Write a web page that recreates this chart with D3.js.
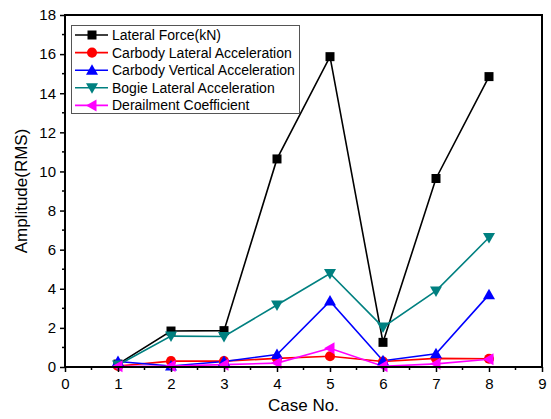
<!DOCTYPE html>
<html>
<head>
<meta charset="utf-8">
<script src="https://cdn.jsdelivr.net/npm/d3@7"></script>
<style>
  html, body { margin: 0; padding: 0; background: #fff; }
  svg { display: block; font-family: "Liberation Sans", Arial, sans-serif; }
</style>
</head>
<body>
<svg id="chart" width="551" height="419"></svg>
<script>
// Case numbers on the x axis
const cases = [1, 2, 3, 4, 5, 6, 7, 8];

// RMS amplitude per case for each measured quantity
const lateralForce = [0.15, 1.84, 1.86, 10.64, 15.87, 1.26, 9.64, 14.85];
const carbodyLateralAcc = [0.05, 0.3, 0.3, 0.44, 0.55, 0.28, 0.44, 0.42];
const carbodyVerticalAcc = [0.28, 0.05, 0.28, 0.64, 3.37, 0.32, 0.68, 3.7];
const bogieLateralAcc = [0.1, 1.58, 1.56, 3.17, 4.78, 2.04, 3.89, 6.62];
const derailmentCoef = [0.04, 0.05, 0.12, 0.2, 0.96, 0.04, 0.16, 0.4];

const seriesNames = [
  "Lateral Force(kN)",
  "Carbody Lateral Acceleration",
  "Carbody Vertical Acceleration",
  "Bogie Lateral Acceleration",
  "Derailment Coefficient"
];

const xTicks = [0, 1, 2, 3, 4, 5, 6, 7, 8, 9];
const yTicks = [0, 2, 4, 6, 8, 10, 12, 14, 16, 18];

const series = [
  { name: seriesNames[0], values: lateralForce, color: "#000000", symbol: "square" },
  { name: seriesNames[1], values: carbodyLateralAcc, color: "#FF0000", symbol: "circle" },
  { name: seriesNames[2], values: carbodyVerticalAcc, color: "#0000FF", symbol: "triUp" },
  { name: seriesNames[3], values: bogieLateralAcc, color: "#008080", symbol: "triDown" },
  { name: seriesNames[4], values: derailmentCoef, color: "#FF00FF", symbol: "triLeft" }
];

const svg = d3.select("#chart");
const margin = { left: 65, right: 9, top: 15, bottom: 52 };
const W = 551, H = 419;

const x = d3.scaleLinear().domain([0, 9]).range([margin.left, W - margin.right]);
const y = d3.scaleLinear().domain([0, 18]).range([H - margin.bottom, margin.top]);

// Marker path generator
function markerPath(sym) {
  switch (sym) {
    case "square": return "M-4.5,-4.5H4.5V4.5H-4.5Z";
    case "circle": return d3.symbol(d3.symbolCircle, 80)();
    case "triUp": return "M0,-6L6,4.5L-6,4.5Z";
    case "triDown": return "M0,6L6,-4.5L-6,-4.5Z";
    case "triLeft": return "M-6,0L4.5,-6L4.5,6Z";
  }
}

// Data lines and markers
const line = d3.line().x((d, i) => x(cases[i])).y(d => y(d));
const plot = svg.append("g");
series.forEach(s => {
  plot.append("path")
    .attr("d", line(s.values))
    .attr("fill", "none")
    .attr("stroke", s.color)
    .attr("stroke-width", 1.6);
});
series.forEach(s => {
  plot.selectAll(null)
    .data(s.values)
    .enter().append("path")
    .attr("transform", (d, i) => `translate(${x(cases[i])},${y(d)})`)
    .attr("d", markerPath(s.symbol))
    .attr("fill", s.color);
});

// Axes
const xAxis = d3.axisBottom(x).tickValues(xTicks).tickFormat(d3.format("d")).tickSize(5).tickSizeOuter(0);
const yAxis = d3.axisLeft(y).tickValues(yTicks).tickFormat(d3.format("d")).tickSize(5).tickSizeOuter(0);

const gx = svg.append("g").attr("transform", `translate(0,${y(0)})`).call(xAxis);
const gy = svg.append("g").attr("transform", `translate(${x(0)},0)`).call(yAxis);

[gx, gy].forEach(g => {
  g.select(".domain").remove();
  g.selectAll(".tick line").attr("stroke", "#000").attr("stroke-width", 1.5);
  g.selectAll(".tick text").attr("fill", "#000").style("font-size", "15px");
});
gx.selectAll(".tick text").attr("dy", "0.95em").attr("y", 8);
gy.selectAll(".tick text").attr("x", -9);

// Minor ticks
const xMinor = d3.range(0.5, 9, 1);
const yMinor = d3.range(1, 18, 2);
svg.append("g").selectAll("line").data(xMinor).enter().append("line")
  .attr("x1", d => x(d)).attr("x2", d => x(d))
  .attr("y1", y(0)).attr("y2", y(0) + 3)
  .attr("stroke", "#000").attr("stroke-width", 1.5);
svg.append("g").selectAll("line").data(yMinor).enter().append("line")
  .attr("x1", x(0) - 3).attr("x2", x(0))
  .attr("y1", d => y(d)).attr("y2", d => y(d))
  .attr("stroke", "#000").attr("stroke-width", 1.5);

// Plot frame
svg.append("rect")
  .attr("x", x(0)).attr("y", y(18))
  .attr("width", x(9) - x(0)).attr("height", y(0) - y(18))
  .attr("fill", "none").attr("stroke", "#000").attr("stroke-width", 2);

// Axis titles
svg.append("text")
  .attr("x", (x(0) + x(9)) / 2).attr("y", 411)
  .attr("text-anchor", "middle")
  .style("font-size", "17px")
  .text("Case No.");
svg.append("text")
  .attr("transform", `translate(27,${(y(0) + y(18)) / 2}) rotate(-90)`)
  .attr("text-anchor", "middle")
  .style("font-size", "17px")
  .text("Amplitude(RMS)");

// Legend
const legend = svg.append("g");
legend.append("rect")
  .attr("x", 71.5).attr("y", 25.5)
  .attr("width", 228).attr("height", 88)
  .attr("fill", "#fff").attr("stroke", "#555").attr("stroke-width", 1);
series.forEach((s, i) => {
  const ly = 35 + i * 17.6;
  legend.append("line")
    .attr("x1", 75).attr("x2", 108).attr("y1", ly).attr("y2", ly)
    .attr("stroke", s.color).attr("stroke-width", 1.6);
  legend.append("path")
    .attr("transform", `translate(92,${ly})`)
    .attr("d", markerPath(s.symbol))
    .attr("fill", s.color);
  legend.append("text")
    .attr("x", 112).attr("y", ly).attr("dy", "0.35em")
    .style("font-size", "14px")
    .text(s.name);
});
</script>
</body>
</html>
